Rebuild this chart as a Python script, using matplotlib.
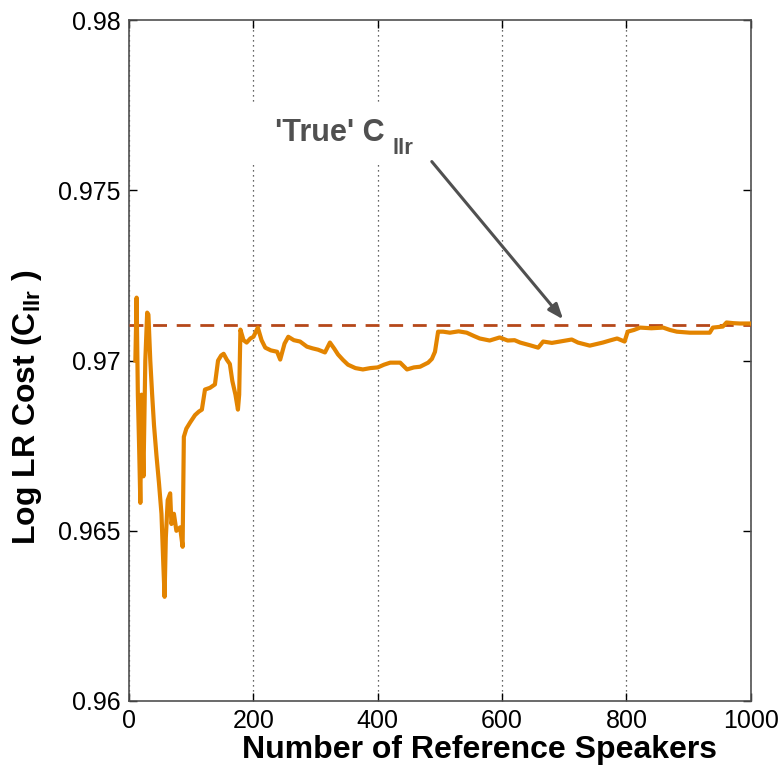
import matplotlib
matplotlib.use("Agg")
import matplotlib.pyplot as plt
from matplotlib.patches import Rectangle

plt.rcParams['font.family'] = ['Liberation Sans', 'DejaVu Sans']
plt.rcParams['mathtext.fontset'] = 'custom'
plt.rcParams['mathtext.rm'] = 'Liberation Sans:bold'
plt.rcParams['mathtext.bf'] = 'Liberation Sans:bold'

# running Cllr estimate vs number of reference speakers
speakers = [10, 12, 14, 16, 18, 20, 23, 26, 29, 31, 34, 37, 40, 44, 48, 52, 55, 57, 59, 62,
            66, 68, 72, 76, 82, 86, 88, 92, 98, 106, 112, 117, 122, 130, 138, 143, 148, 152,
            157, 162, 166, 171, 175, 177, 179, 184, 189, 195, 200, 207, 213, 219, 228, 238,
            243, 250, 256, 265, 275, 286, 295, 304, 315, 323, 330, 336, 344, 352, 364, 376,
            388, 400, 410, 420, 436, 447, 458, 468, 481, 487, 492, 497, 505, 516, 530, 543,
            555, 564, 580, 596, 609, 620, 629, 645, 658, 666, 680, 693, 712, 722, 741, 762,
            775, 785, 797, 802, 812, 822, 840, 859, 870, 881, 902, 923, 934, 939, 955, 961,
            972, 982, 1000]
cllr = [0.9700, 0.97185, 0.9690, 0.9675, 0.96582, 0.9690, 0.9666, 0.9700, 0.97141, 0.97135,
        0.9700, 0.9690, 0.9681, 0.9672, 0.9664, 0.9655, 0.9640, 0.96306, 0.9648, 0.9659,
        0.9661, 0.9652, 0.9655, 0.9650, 0.9651, 0.96453, 0.96776, 0.9680, 0.96818, 0.9684,
        0.9685, 0.96856, 0.96915, 0.9692, 0.9693, 0.9700, 0.97015, 0.9702, 0.97003, 0.9699,
        0.9694, 0.9690, 0.96856, 0.9690, 0.97091, 0.9706, 0.97053, 0.97065, 0.9707, 0.97097,
        0.9706, 0.97038, 0.9703, 0.97026, 0.97003, 0.9705, 0.9707, 0.9706, 0.97056, 0.97041,
        0.97036, 0.97032, 0.97024, 0.97053, 0.97035, 0.97018, 0.97002, 0.96988, 0.96978,
        0.96974, 0.96978, 0.9698, 0.96988, 0.96994, 0.96994, 0.96974, 0.9698, 0.96982,
        0.96994, 0.97005, 0.97026, 0.97085, 0.97085, 0.97082, 0.97086, 0.97082, 0.97072,
        0.97065, 0.97059, 0.97068, 0.97059, 0.9706, 0.97053, 0.97045, 0.97038, 0.97056,
        0.97052, 0.97056, 0.97062, 0.97053, 0.97044, 0.97053, 0.9706, 0.97065, 0.97056,
        0.97085, 0.9709, 0.97097, 0.97095, 0.97097, 0.9709, 0.97085, 0.97082, 0.97082,
        0.97082, 0.97097, 0.971, 0.97112, 0.9711, 0.97109, 0.97109]
true_cllr = 0.97105

xticks = [0, 200, 400, 600, 800, 1000]
yticks = [0.96, 0.965, 0.97, 0.975, 0.98]
ytick_labels = ['0.96', '0.965', '0.97', '0.975', '0.98']

fig = plt.figure(figsize=(7.78, 7.78), dpi=100)
ax = fig.add_axes([0.166, 0.099, 0.799, 0.875])

ax.axhline(true_cllr, color='#B5481A', lw=2, ls=(0, (5, 3.5)), zorder=3)
ax.plot(speakers, cllr, color='#E38400', lw=3, zorder=4)

ax.set_xlim(0, 1000)
ax.set_ylim(0.96, 0.98)
ax.set_xticks(xticks)
ax.set_xticklabels([str(t) for t in xticks])
ax.set_yticks(yticks)
ax.set_yticklabels(ytick_labels)
ax.tick_params(direction='in', length=6, width=1, labelsize=18, top=True, right=True, pad=6)
ax.xaxis.grid(True, ls=(0, (1, 3)), color='#333333', lw=0.9)
for s in ax.spines.values():
    s.set_color('#505050')
    s.set_linewidth(1.2)

ax.set_xlabel('Number of Reference Speakers', fontsize=23, fontweight='bold')
ax.set_ylabel(r'Log LR Cost (C$_{\mathbf{llr}}$ )', fontsize=23, fontweight='bold')
ax.xaxis.set_label_coords(0.563, -0.05)
ax.yaxis.set_label_coords(-0.137, 0.432)

# white box behind the label that hides the grid
ax.add_patch(Rectangle((178, 0.97582), 306, 0.00171, facecolor='white', edgecolor='none', zorder=2))
ax.text(235, 0.97644, "'True' C", fontsize=22, fontweight='bold',
        color='#505050', va='baseline', ha='left', zorder=5)
ax.text(424, 0.97606, "llr", fontsize=16, fontweight='bold',
        color='#505050', va='baseline', ha='left', zorder=5)
ax.annotate('', xy=(701, 0.97115), xytext=(484, 0.97591),
            arrowprops=dict(arrowstyle='-|>,head_length=0.9,head_width=0.35', color='#505050', lw=2.2),
            zorder=5)

fig.savefig('out.png', dpi=100)
